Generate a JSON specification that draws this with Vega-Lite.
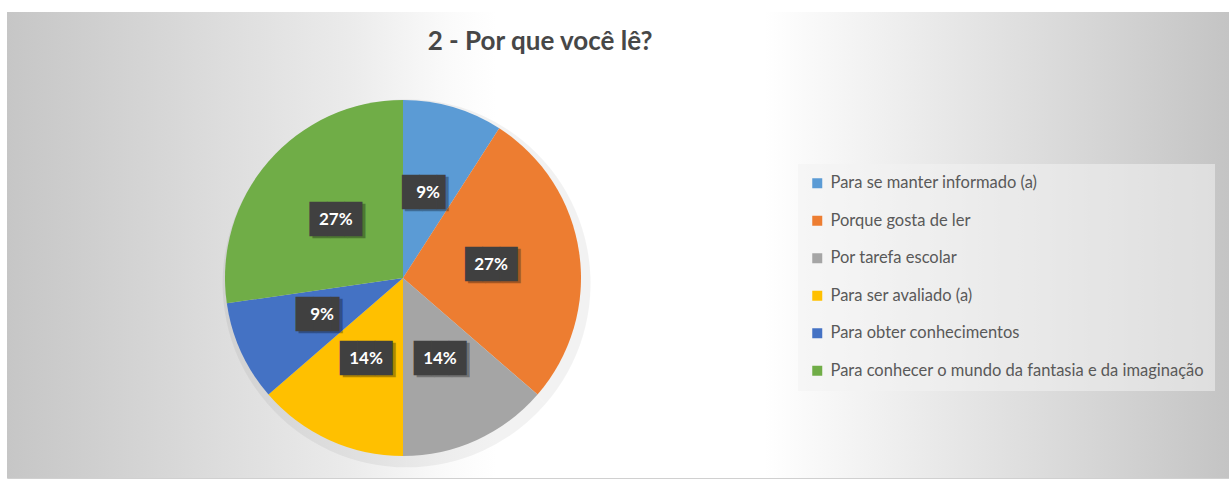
{
  "$schema": "https://vega.github.io/schema/vega-lite/v6.json",
  "autosize": "none",
  "width": 1222,
  "height": 466,
  "padding": {"left": 7, "top": 12, "right": 0, "bottom": 1},
  "background": "white",
  "config": {
    "view": {"stroke": "#d0d0d0", "strokeWidth": 1},
    "font": "Lato"
  },
  "title": {
    "text": "2 - Por que você lê?",
    "font": "Lato",
    "fontSize": 26,
    "fontWeight": "bold",
    "color": "#474747",
    "anchor": "middle",
    "frame": "group",
    "baseline": "alphabetic",
    "offset": 0,
    "dx": -78,
    "dy": 64
  },
  "data": {
    "values": [
      {"motivo": "Para se manter informado (a)", "pct": 0.0909, "ord": 1},
      {"motivo": "Porque gosta de ler", "pct": 0.2727, "ord": 2},
      {"motivo": "Por tarefa escolar", "pct": 0.1364, "ord": 3},
      {"motivo": "Para ser avaliado (a)", "pct": 0.1364, "ord": 4},
      {"motivo": "Para obter conhecimentos", "pct": 0.0909, "ord": 5},
      {"motivo": "Para conhecer o mundo da fantasia e da imaginação", "pct": 0.2727, "ord": 6}
    ]
  },
  "layer": [
    {
      "mark": {
        "type": "rect",
        "fill": {
          "gradient": "linear",
          "x1": 0, "y1": 0.5, "x2": 1, "y2": 0.5,
          "stops": [
            {"offset": 0, "color": "#c6c6c6"},
            {"offset": 0.14, "color": "#d8d8d8"},
            {"offset": 0.28, "color": "#ebebeb"},
            {"offset": 0.36, "color": "#fafafa"},
            {"offset": 0.4, "color": "#ffffff"},
            {"offset": 0.62, "color": "#ffffff"},
            {"offset": 0.78, "color": "#e6e6e6"},
            {"offset": 0.9, "color": "#d4d4d4"},
            {"offset": 1, "color": "#c4c4c4"}
          ]
        }
      },
      "encoding": {}
    },
    {
      "mark": {"type": "arc", "outerRadius": 184, "color": "#000000", "opacity": 0.05},
      "encoding": {
        "theta": {"field": "pct", "type": "quantitative", "stack": true},
        "order": {"field": "ord"},
        "x": {"datum": 0.02, "type": "quantitative", "scale": {"domain": [-2.2247, 4.6404], "nice": false, "zero": false}, "axis": null},
        "y": {"datum": -0.03, "type": "quantitative", "scale": {"domain": [-1.1236, 1.4944], "nice": false, "zero": false}, "axis": null}
      }
    },
    {
      "mark": {"type": "arc", "outerRadius": 178, "stroke": null},
      "encoding": {
        "theta": {"field": "pct", "type": "quantitative", "stack": true},
        "order": {"field": "ord"},
        "color": {
          "field": "motivo",
          "type": "nominal",
          "sort": null,
          "scale": {
            "domain": [
              "Para se manter informado (a)",
              "Porque gosta de ler",
              "Por tarefa escolar",
              "Para ser avaliado (a)",
              "Para obter conhecimentos",
              "Para conhecer o mundo da fantasia e da imaginação"
            ],
            "range": ["#5B9BD5", "#ED7D31", "#A5A5A5", "#FFC000", "#4472C4", "#70AD47"]
          },
          "legend": {
            "title": null,
            "orient": "none",
            "legendX": 791,
            "legendY": 152,
            "fillColor": "rgba(242,242,242,0.55)",
            "padding": 11,
            "symbolType": "square",
            "symbolSize": 100,
            "symbolStrokeWidth": 0,
            "labelFont": "Lato",
            "labelFontSize": 16.5,
            "labelColor": "#595959",
            "labelLimit": 600,
            "labelOffset": 5,
            "rowPadding": 20.5
          }
        },
        "x": {"datum": 0, "type": "quantitative"},
        "y": {"datum": 0, "type": "quantitative"}
      }
    },
    {
      "mark": {"type": "text", "radius": 89, "font": "DejaVu Sans Mono", "fontSize": 29, "color": "#000000", "opacity": 0.3, "dx": 3, "dy": 2, "align": "center", "baseline": "middle"},
      "encoding": {
        "theta": {"field": "pct", "type": "quantitative", "stack": true},
        "order": {"field": "ord"},
        "text": {"condition": {"test": "datum.pct < 0.1", "value": "██▌"}, "value": "███"},
        "x": {"datum": 0, "type": "quantitative"},
        "y": {"datum": 0, "type": "quantitative"}
      }
    },
    {
      "mark": {"type": "text", "radius": 89, "font": "DejaVu Sans Mono", "fontSize": 29, "color": "#404040", "align": "center", "baseline": "middle"},
      "encoding": {
        "theta": {"field": "pct", "type": "quantitative", "stack": true},
        "order": {"field": "ord"},
        "text": {"condition": {"test": "datum.pct < 0.1", "value": "██▌"}, "value": "███"},
        "x": {"datum": 0, "type": "quantitative"},
        "y": {"datum": 0, "type": "quantitative"}
      }
    },
    {
      "mark": {"type": "text", "radius": 89, "font": "Lato", "fontWeight": "bold", "fontSize": 17, "color": "#ffffff", "align": "center", "baseline": "middle"},
      "encoding": {
        "theta": {"field": "pct", "type": "quantitative", "stack": true},
        "order": {"field": "ord"},
        "text": {"field": "pct", "type": "quantitative", "format": ".0%"},
        "x": {"datum": 0, "type": "quantitative"},
        "y": {"datum": 0, "type": "quantitative"}
      }
    }
  ]
}
